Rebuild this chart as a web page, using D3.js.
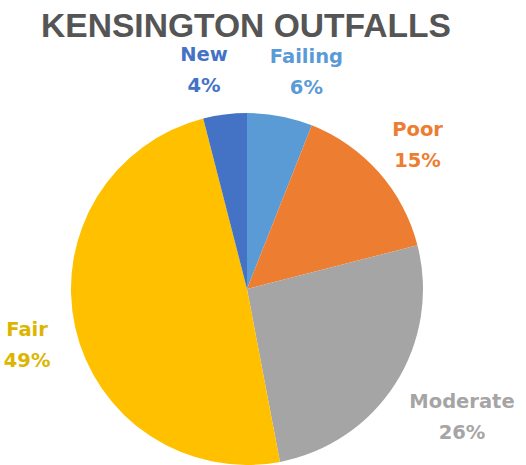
<!DOCTYPE html>
<html>
<head>
<meta charset="utf-8">
<script src="https://cdn.jsdelivr.net/npm/d3@7"></script>
<style>
  body { margin: 0; background: #fff; }
  svg { display: block; }
</style>
</head>
<body>
<svg id="chart"></svg>
<script>
// values, clockwise from 12 o'clock
var categories = ["Failing", "Poor", "Moderate", "Fair", "New"];
var shares = [6, 15, 26, 49, 4];
var colors = ["#5B9BD5", "#ED7D31", "#A5A5A5", "#FFC000", "#4472C4"];
var labelColors = ["#5B9BD5", "#ED7D31", "#A5A5A5", "#DDB500", "#4472C4"];
var title = "KENSINGTON OUTFALLS";

var screen = {width: 526, height: 465};
var cx = 247, cy = 289, radius = 176;

var svg = d3.select("#chart")
    .attr("width", screen.width)
    .attr("height", screen.height);

// title
svg.append("text")
    .attr("x", 246)
    .attr("y", 37)
    .attr("text-anchor", "middle")
    .attr("textLength", 410)
    .attr("lengthAdjust", "spacingAndGlyphs")
    .style("font-family", "'Liberation Sans', sans-serif")
    .style("font-weight", "bold")
    .style("font-size", "34px")
    .style("fill", "#555555")
    .text(title);

var slices = categories.map(function(c, i) {
    return {name: c, value: shares[i], color: colors[i], labelColor: labelColors[i]};
});

var pie = d3.pie()
    .sort(null)
    .value(function(d) { return d.value; });

var arcs = pie(slices);

var arc = d3.arc()
    .innerRadius(0)
    .outerRadius(radius);

var g = svg.append("g")
    .attr("transform", "translate(" + cx + "," + cy + ")");

g.selectAll("path")
    .data(arcs)
    .enter()
    .append("path")
    .attr("d", arc)
    .style("fill", function(d) { return d.data.color; })
    .style("stroke", "none");

// labels sit just outside the pie, the box touching the anchor point
var anchorR = 202;
var boxH = 50;
var fontSize = 19.5;

var tmp = svg.append("text")
    .style("font-family", "'DejaVu Sans', sans-serif")
    .style("font-weight", "bold")
    .style("font-size", fontSize + "px");

var labels = arcs.map(function(a) {
    var mid = (a.startAngle + a.endAngle) / 2;
    var s = Math.sin(mid), c = Math.cos(mid);
    tmp.text(a.data.name);
    var w1 = tmp.node().getComputedTextLength();
    tmp.text(a.data.value + "%");
    var w2 = tmp.node().getComputedTextLength();
    var w = Math.max(w1, w2);
    return {
        a: a,
        w: w,
        x: anchorR * s + (w / 2) * s,
        y: -anchorR * c - (boxH / 2) * c
    };
});
tmp.remove();

// spread the two small labels at the top apart a little
var minGap = 42;
for (var k = 0; k < 20; k++) {
    labels.forEach(function(p) {
        labels.forEach(function(q) {
            if (p === q) return;
            if (Math.abs(p.y - q.y) > boxH) return;
            var left = p.x < q.x ? p : q, right = p.x < q.x ? q : p;
            var gap = (right.x - right.w / 2) - (left.x + left.w / 2);
            if (gap < minGap) {
                var push = (minGap - gap) / 2;
                left.x -= push;
                right.x += push;
            }
        });
    });
}

var lg = g.selectAll("g.label")
    .data(labels)
    .enter()
    .append("g")
    .attr("class", "label")
    .attr("transform", function(d) { return "translate(" + d.x + "," + d.y + ")"; });

lg.append("text")
    .attr("text-anchor", "middle")
    .attr("y", -3)
    .style("font-family", "'DejaVu Sans', sans-serif")
    .style("font-weight", "bold")
    .style("font-size", fontSize + "px")
    .style("fill", function(d) { return d.a.data.labelColor; })
    .text(function(d) { return d.a.data.name; });

lg.append("text")
    .attr("text-anchor", "middle")
    .attr("y", 28)
    .style("font-family", "'DejaVu Sans', sans-serif")
    .style("font-weight", "bold")
    .style("font-size", fontSize + "px")
    .style("fill", function(d) { return d.a.data.labelColor; })
    .text(function(d) { return d.a.data.value + "%"; });
</script>
</body>
</html>
